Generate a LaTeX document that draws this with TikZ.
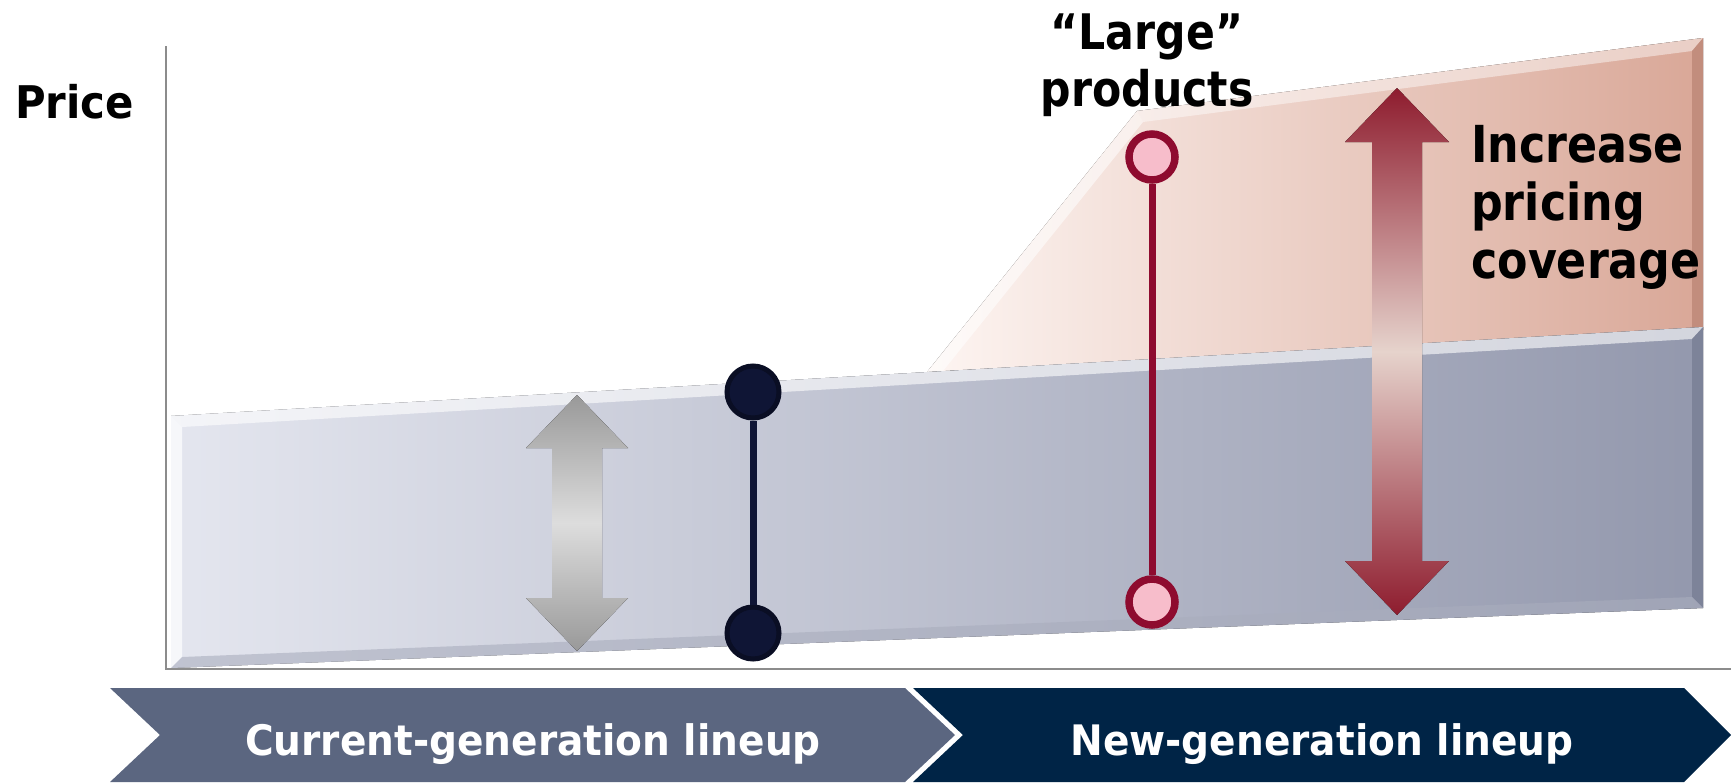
\documentclass[tikz,border=0pt]{standalone}
\usepackage{fontspec}
\setmainfont{DejaVu Sans}[FakeStretch=0.93]
\newfontfamily\narrowfont{DejaVu Sans}[FakeStretch=0.87]
\definecolor{bandL}{HTML}{E4E6EF}
\definecolor{bandR}{HTML}{9398AD}
\definecolor{pinkL}{HTML}{FDF5F2}
\definecolor{pinkR}{HTML}{D9A797}
\definecolor{pinkEdge}{HTML}{B98272}
\definecolor{bandEdgeR}{HTML}{6F758C}
\definecolor{bandEdgeB}{HTML}{A9ADBD}
\definecolor{navy}{HTML}{0F1535}
\definecolor{navyEdge}{HTML}{0A0E24}
\definecolor{wine}{HTML}{8E0B2F}
\definecolor{rose}{HTML}{F7BDCB}
\definecolor{arrowRed}{HTML}{8E1C2E}
\definecolor{arrowLight}{HTML}{E6D3CC}
\definecolor{greyDark}{HTML}{999999}
\definecolor{greyLight}{HTML}{DDDDDD}
\definecolor{chevL}{HTML}{5B6680}
\definecolor{chevR}{HTML}{002446}
\definecolor{axisGrey}{HTML}{8C8C8C}
\begin{document}
\begin{tikzpicture}[x=1pt,y=-1pt,
  navydot/.style={circle,fill=navy,draw=navyEdge,line width=5,minimum size=52,inner sep=0},
  navyline/.style={line width=7,draw=navy},
  winedot/.style={circle,fill=rose,draw=wine,line width=7.5,minimum size=46,inner sep=0},
  wineline/.style={line width=7,draw=wine},
  txt/.style={inner sep=0,text=black},
  chevtext/.style={inner sep=0,text=white,font=\bfseries\fontsize{42}{48}\selectfont}]
\useasboundingbox (0,0) rectangle (1731,782);
% axes
\draw[axisGrey,line width=2.2] (166,46) -- (166,669) -- (1731,669);
% pink region
\fill[left color=pinkL,right color=pinkR] (927,372) -- (1137,111) -- (1703,38) -- (1703,330) -- cycle;
\fill[white,opacity=.55] (927,372) -- (1137,111) -- (1143,122) -- (943,371) -- cycle;
\fill[white,opacity=.45] (1137,111) -- (1703,38) -- (1692,51) -- (1143,122) -- cycle;
\fill[pinkEdge,opacity=.7] (1703,38) -- (1703,330) -- (1692,331) -- (1692,51) -- cycle;
% blue band
\fill[left color=bandL,right color=bandR] (171,668) -- (171,416) -- (1703,327) -- (1703,608) -- cycle;
\fill[white,opacity=.6] (171,416) -- (1703,327) -- (1692,339) -- (182,427) -- cycle;
\fill[white,opacity=.7] (171,668) -- (171,416) -- (182,427) -- (182,657) -- cycle;
\fill[bandEdgeR,opacity=.6] (1703,327) -- (1703,608) -- (1692,597) -- (1692,339) -- cycle;
\fill[bandEdgeB,opacity=.6] (1703,608) -- (171,668) -- (182,657) -- (1692,597) -- cycle;
% grey double arrow
\fill[top color=greyDark,bottom color=greyDark,middle color=greyLight]
  (577,395) -- (628,448) -- (602,448) -- (602,598) -- (628,598) -- (577,651)
  -- (526,598) -- (552,598) -- (552,448) -- (526,448) -- cycle;
% red double arrow
\fill[top color=arrowRed,bottom color=arrowRed,middle color=arrowLight]
  (1397,88) -- (1449,142) -- (1422,142) -- (1422,561) -- (1449,561) -- (1397,615)
  -- (1345,561) -- (1372,561) -- (1372,142) -- (1345,142) -- cycle;
% dumbbells
\node[navydot] (n1) at (753,392) {};
\node[navydot] (n2) at (753,633) {};
\draw[navyline] (n1) -- (n2);
\node[winedot] (w1) at (1152,157) {};
\node[winedot] (w2) at (1152,602) {};
\draw[wineline] (w1) -- (w2);
% labels
\node[txt,anchor=base west,font=\bfseries\fontsize{45}{51}\selectfont] (price) at (15,118) {Price};
\node[txt,align=center,anchor=north,font=\narrowfont\bfseries\fontsize{49}{57}\selectfont] (large) at (1147,14) {“Large”\\products};
\node[txt,align=left,anchor=north west,font=\narrowfont\bfseries\fontsize{51}{58}\selectfont] (incr) at (1471,125) {Increase\\pricing\\coverage};
% chevrons
\fill[chevL] (110,688) -- (905,688) -- (955,735) -- (905,782) -- (110,782) -- (160,735) -- cycle;
\fill[chevR] (913,688) -- (1684,688) -- (1731,735) -- (1684,782) -- (913,782) -- (963,735) -- cycle;
\node[chevtext,anchor=base] (cur) at (533,755) {Current-generation lineup};
\node[chevtext,anchor=base] (new) at (1322,755) {New-generation lineup};
\end{tikzpicture}
\end{document}
